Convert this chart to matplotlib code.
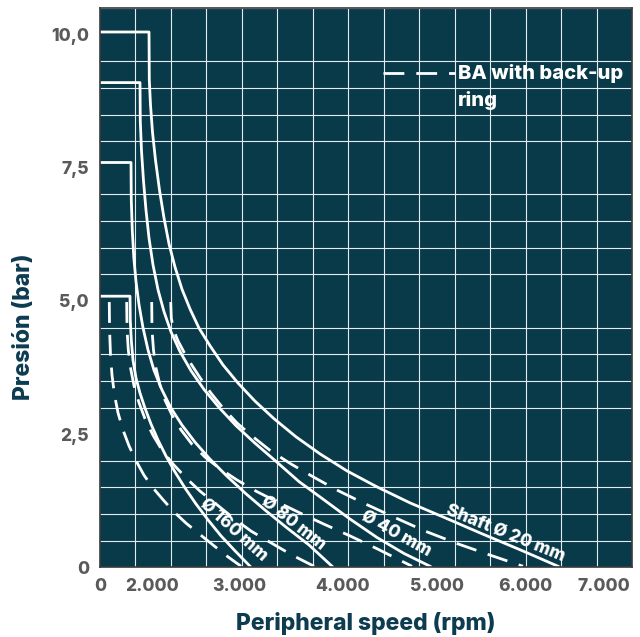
import matplotlib.pyplot as plt
from matplotlib.ticker import MultipleLocator

# solid curves: BA seal, shaft diameters 20 / 40 / 80 / 160 mm (x = rpm, y = bar)
x_20 = [0, 691, 695, 712, 740, 782, 839, 902, 973, 1057, 1156, 1269, 1396, 1551,
        1734, 1945, 2185, 2453, 2763, 3101, 3482, 3905, 4370, 4864, 5385, 5921, 6457]
p_20 = [10.05, 10.05, 9.15, 8.68, 8.17, 7.65, 7.08, 6.56, 6.07, 5.64, 5.22, 4.85,
        4.49, 4.16, 3.80, 3.46, 3.12, 2.79, 2.45, 2.13, 1.81, 1.51, 1.21, 0.93,
        0.63, 0.33, 0.02]

x_40 = [0, 564, 568, 585, 613, 648, 691, 747, 818, 902, 1001, 1128, 1283, 1466,
        1678, 1917, 2185, 2481, 2805, 3144, 3510, 3905, 4286, 4652]
p_40 = [9.1, 9.1, 8.38, 7.82, 7.26, 6.71, 6.18, 5.68, 5.21, 4.80, 4.42, 4.05, 3.69,
        3.34, 3.00, 2.66, 2.33, 1.99, 1.61, 1.28, 0.92, 0.56, 0.26, 0.02]

x_80 = [0, 437, 441, 455, 477, 508, 550, 606, 677, 761, 874, 1001, 1156, 1339,
        1551, 1790, 2058, 2340, 2636, 2946, 3271]
p_80 = [7.6, 7.6, 6.90, 6.33, 5.81, 5.36, 4.93, 4.50, 4.08, 3.70, 3.33, 2.99, 2.67,
        2.35, 2.03, 1.71, 1.38, 1.06, 0.74, 0.42, 0.02]

x_160 = [0, 423, 427, 441, 465, 508, 564, 634, 719, 818, 930, 1057, 1198, 1353,
         1523, 1706, 1903, 2115]
p_160 = [5.09, 5.09, 4.64, 4.27, 3.89, 3.55, 3.27, 2.99, 2.69, 2.39, 2.09, 1.79,
         1.49, 1.19, 0.89, 0.59, 0.31, 0.02]

# dashed curves: BA with back-up ring
xb_160 = [131, 135, 148, 169, 204, 254, 324, 409, 508, 620, 747, 888, 1043, 1212,
          1396, 1593, 1790, 1988]
pb_160 = [4.98, 4.46, 3.99, 3.61, 3.24, 2.90, 2.58, 2.28, 2.00, 1.73, 1.49, 1.27,
          1.04, 0.83, 0.63, 0.42, 0.21, 0.02]

xb_80 = [376, 381, 399, 430, 479, 550, 634, 747, 874, 1029, 1212, 1410, 1635, 1875,
         2129, 2411, 2707, 3017]
pb_80 = [4.98, 4.46, 4.08, 3.75, 3.41, 3.09, 2.79, 2.48, 2.20, 1.94, 1.68, 1.43,
         1.19, 0.93, 0.68, 0.46, 0.23, 0.02]

xb_40 = [729, 733, 754, 789, 846, 916, 1015, 1142, 1297, 1480, 1692, 1931, 2199,
         2495, 2820, 3158, 3524, 3919, 4398]
pb_40 = [4.98, 4.46, 4.08, 3.74, 3.42, 3.14, 2.86, 2.58, 2.31, 2.07, 1.85, 1.64,
         1.43, 1.23, 1.02, 0.81, 0.59, 0.34, 0.02]

xb_20 = [997, 1005, 1036, 1100, 1184, 1283, 1410, 1565, 1734, 1931, 2157, 2411,
         2693, 3003, 3341, 3708, 4131, 4582, 5047, 5498, 5963]
pb_20 = [4.98, 4.68, 4.46, 4.25, 4.04, 3.82, 3.56, 3.27, 2.99, 2.71, 2.45, 2.18,
         1.94, 1.70, 1.45, 1.21, 0.95, 0.68, 0.44, 0.23, 0.02]

# curve labels: text, x, y, rotation
curve_labels = ['Shaft Ø 20 mm', 'Ø 40 mm', 'Ø 80 mm', 'Ø 160 mm']
label_x = [5721, 4183, 2725, 1880]
label_y = [0.64, 0.63, 0.84, 0.71]
label_rot = [-22, -29, -38, -42]

xtick_pos = [0, 733, 1960, 3426, 4751, 5992, 7105]
xtick_labels = ['0', '2.000', '3.000', '4.000', '5.000', '6.000', '7.000']
ytick_pos = [0, 2.5, 5, 7.5, 10]
ytick_labels = ['0', '2,5', '5,0', '7,5', '10,0']

plt.rcParams['font.family'] = ['Inter', 'DejaVu Sans']

bg = '#083a4a'
navy = '#0d3b4f'
grey = '#5a5a5a'
heavy = 800

fig = plt.figure(figsize=(6.4, 6.37), dpi=100)
ax = fig.add_axes([0.15625, 0.1094, 0.83125, 0.878])
ax.set_facecolor(bg)

ax.set_xlim(0, 7500)
ax.set_ylim(0, 10.5)

ax.xaxis.set_minor_locator(MultipleLocator(500))
ax.yaxis.set_minor_locator(MultipleLocator(0.5))
ax.grid(which='minor', color='#e6ecee', lw=0.8)
ax.set_axisbelow(True)

ax.set_xticks(xtick_pos)
ax.set_xticklabels(xtick_labels)
ax.set_yticks(ytick_pos)
ax.set_yticklabels(ytick_labels)
ax.tick_params(which='both', length=0)
ax.tick_params(axis='x', pad=8, labelsize=12.5, labelcolor=grey)
ax.tick_params(axis='y', pad=8, labelsize=12.5, labelcolor=grey)
for t in ax.get_xticklabels() + ax.get_yticklabels():
    t.set_fontweight(heavy)

for s in ax.spines.values():
    s.set_color('#3a3a3a')
    s.set_linewidth(1.2)

lw = 2.0
for x, p in [(x_20, p_20), (x_40, p_40), (x_80, p_80), (x_160, p_160)]:
    ax.plot(x, p, color='white', lw=lw, solid_joinstyle='round')
for x, p in [(xb_20, pb_20), (xb_40, pb_40), (xb_80, pb_80), (xb_160, pb_160)]:
    ax.plot(x, p, color='white', lw=lw, dashes=(7.5, 4.3))

for txt, x, y, r in zip(curve_labels, label_x, label_y, label_rot):
    ax.text(x, y, txt, rotation=r, rotation_mode='anchor', ha='center', va='center',
            color='white', fontsize=12.5, fontweight=heavy)

# legend for the dashed lines
ax.plot([3990, 5010], [9.28, 9.28], color='white', lw=lw, dashes=(7.5, 4.3))
ax.text(5050, 9.16, 'BA with back-up', ha='left', va='baseline', color='white',
        fontsize=14.5, fontweight=heavy)
ax.text(5050, 8.66, 'ring', ha='left', va='baseline', color='white',
        fontsize=14.5, fontweight=heavy)

ax.set_xlabel('Peripheral speed (rpm)', fontsize=16.5, fontweight=heavy, color=navy,
              labelpad=12)
ax.set_ylabel('Presión (bar)', fontsize=16.5, fontweight=heavy, color=navy)
ax.yaxis.set_label_coords(-0.122, 0.43)

fig.savefig('out.png', dpi=100)
